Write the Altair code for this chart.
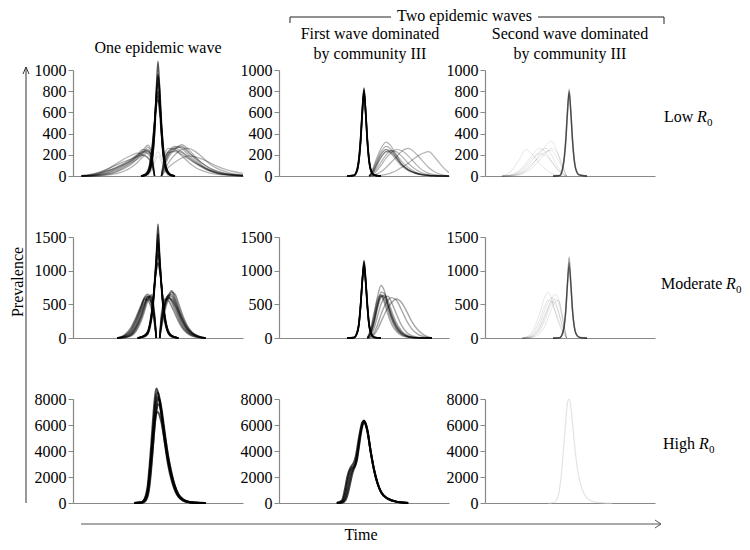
import altair as alt
import pandas as pd

FONT = "Liberation Serif"

# ---------------- data (time in % of panel width) ----------------
# Row 1: Low R0 -------------------------------------------------------------
P11_NARROW_T = [40, 43, 45, 46, 47, 48, 49, 50, 51, 52, 53, 54, 55, 57, 60]
P11_NARROW_Y = [
    [0, 8, 40, 90, 200, 420, 800, 1080, 800, 420, 200, 90, 40, 8, 0],
    [0, 10, 50, 110, 230, 460, 790, 960, 760, 430, 210, 100, 45, 10, 0],
    [0, 12, 60, 130, 260, 480, 760, 880, 720, 450, 230, 115, 55, 12, 0],
    [0, 15, 70, 150, 290, 490, 710, 800, 690, 470, 260, 130, 65, 15, 0],
    [0, 18, 85, 180, 320, 500, 660, 720, 640, 480, 290, 150, 75, 18, 0],
    [0, 25, 100, 200, 340, 520, 700, 760, 600, 400, 230, 120, 60, 15, 0],
    [0, 10, 45, 100, 210, 400, 700, 940, 820, 520, 280, 140, 60, 14, 0],
]
P11_LEFT_T = [5, 10, 15, 20, 25, 30, 35, 38, 41, 44, 46, 47, 48]
P11_LEFT_Y = [
    [0, 5, 20, 45, 80, 120, 170, 200, 230, 210, 150, 80, 0],
    [0, 2, 10, 25, 50, 90, 140, 180, 220, 250, 190, 100, 0],
    [5, 15, 35, 65, 100, 135, 165, 185, 195, 170, 120, 60, 0],
    [0, 0, 5, 15, 35, 70, 120, 170, 215, 270, 230, 130, 0],
    [0, 8, 25, 60, 110, 160, 200, 215, 200, 175, 130, 70, 0],
    [0, 0, 2, 8, 20, 45, 90, 130, 180, 220, 200, 120, 0],
    [2, 10, 30, 50, 75, 110, 150, 190, 240, 290, 240, 140, 0],
    [0, 3, 12, 30, 60, 100, 150, 190, 225, 240, 200, 110, 0],
    [1, 6, 18, 40, 70, 110, 160, 205, 250, 230, 170, 90, 0],
    [0, 1, 6, 18, 40, 80, 130, 160, 200, 235, 210, 120, 0],
]
P11_RIGHT_T = [52, 53, 54, 56, 60, 64, 68, 72, 76, 80, 85, 90, 95, 100]
P11_RIGHT_Y = [
    [0, 80, 150, 230, 280, 260, 200, 140, 90, 55, 30, 15, 8, 3],
    [0, 40, 90, 170, 250, 295, 250, 180, 120, 75, 40, 20, 10, 5],
    [0, 100, 170, 220, 230, 200, 160, 120, 90, 60, 35, 20, 10, 5],
    [0, 30, 60, 120, 200, 250, 260, 230, 180, 120, 70, 40, 20, 10],
    [0, 60, 120, 200, 240, 220, 170, 120, 80, 50, 25, 12, 5, 2],
    [0, 20, 40, 80, 130, 170, 190, 180, 160, 130, 90, 60, 40, 25],
    [0, 120, 200, 260, 250, 190, 130, 80, 50, 30, 15, 8, 3, 0],
    [0, 70, 130, 210, 270, 280, 230, 160, 100, 60, 30, 15, 6, 2],
    [0, 50, 110, 190, 260, 270, 220, 170, 120, 80, 45, 25, 12, 6],
    [0, 90, 160, 230, 260, 230, 180, 130, 85, 50, 25, 12, 5, 2],
]
P11_MID_T = [44, 46, 48, 50, 52, 54, 56]
P11_MID_Y = [[0, 60, 160, 230, 160, 60, 0], [0, 40, 120, 190, 130, 50, 0]]

P12_NARROW_T = [40, 44, 46, 47, 48, 49, 50, 51, 52, 53, 54, 56, 60]
P12_NARROW_Y = [
    [0, 5, 60, 150, 330, 600, 800, 600, 330, 150, 60, 10, 0],
    [0, 6, 70, 170, 360, 620, 830, 590, 320, 140, 55, 8, 0],
    [0, 4, 50, 140, 310, 580, 780, 610, 350, 160, 65, 12, 0],
    [0, 5, 55, 150, 340, 620, 810, 580, 310, 135, 50, 8, 0],
]
P12_BROAD_T = [53, 55, 57, 60, 63, 66, 69, 72, 76, 80, 84, 88, 92, 96, 100]
P12_BROAD_Y = [
    [0, 30, 90, 180, 230, 220, 170, 110, 60, 30, 12, 5, 2, 0, 0],
    [0, 50, 130, 230, 280, 250, 180, 110, 60, 30, 15, 5, 2, 0, 0],
    [0, 20, 60, 130, 200, 240, 230, 190, 120, 65, 30, 12, 5, 2, 0],
    [0, 40, 110, 210, 250, 210, 150, 95, 50, 25, 10, 4, 1, 0, 0],
    [0, 10, 40, 100, 170, 220, 250, 240, 190, 120, 60, 25, 10, 4, 0],
    [0, 60, 150, 260, 320, 280, 200, 120, 60, 30, 12, 5, 2, 0, 0],
    [0, 5, 15, 40, 80, 130, 180, 230, 260, 220, 150, 80, 35, 12, 0],
    [0, 0, 2, 6, 15, 30, 50, 80, 120, 170, 210, 230, 170, 90, 30],
    [0, 35, 100, 200, 250, 230, 170, 110, 60, 30, 12, 5, 2, 0, 0],
    [0, 25, 80, 170, 230, 240, 200, 140, 80, 40, 18, 6, 2, 0, 0],
]

P13_NARROW_T = [40, 44, 45.5, 46.5, 47.5, 48.5, 49.5, 50.5, 51.5, 52.5, 53.5, 55.5, 60]
P13_NARROW_Y = [
    [0, 5, 60, 150, 330, 600, 800, 600, 330, 150, 60, 10, 0],
    [0, 6, 70, 170, 360, 620, 820, 590, 320, 140, 55, 8, 0],
    [0, 4, 50, 140, 310, 580, 780, 610, 350, 160, 65, 12, 0],
]
P13_BROAD_T = [10, 15, 20, 24, 28, 32, 36, 39, 42, 45, 48]
P13_BROAD_Y = [
    [0, 40, 150, 250, 200, 120, 60, 25, 10, 3, 0],
    [0, 5, 30, 80, 150, 230, 260, 200, 110, 40, 0],
    [0, 2, 15, 50, 110, 200, 290, 330, 250, 110, 0],
    [0, 10, 50, 120, 200, 260, 220, 140, 70, 25, 0],
    [0, 0, 10, 35, 80, 150, 220, 260, 230, 130, 0],
    [0, 3, 20, 60, 120, 180, 230, 240, 180, 90, 0],
    [0, 8, 40, 100, 170, 210, 190, 140, 80, 30, 0],
]

# Row 2: Moderate R0 --------------------------------------------------------
P21_NARROW_T = [38, 42, 44, 46, 47, 48, 49, 50, 51, 52, 53, 54, 56, 58, 62]
P21_NARROW_Y = [
    [0, 20, 60, 250, 450, 750, 1200, 1690, 1200, 750, 450, 250, 70, 20, 0],
    [0, 25, 70, 280, 480, 780, 1150, 1550, 1150, 780, 480, 280, 80, 25, 0],
    [0, 30, 80, 300, 500, 800, 1100, 1400, 1100, 800, 500, 300, 90, 30, 0],
    [0, 35, 90, 320, 520, 800, 1050, 1250, 1050, 800, 520, 320, 100, 35, 0],
    [0, 40, 100, 340, 540, 800, 1000, 1120, 1000, 800, 540, 340, 110, 40, 0],
    [0, 30, 85, 300, 520, 850, 1200, 1450, 1180, 820, 500, 300, 85, 28, 0],
]
P21_LEFT_T = [26, 30, 34, 37, 40, 42, 44, 46, 47, 48, 49]
P21_LEFT_Y = [
    [0, 20, 80, 200, 400, 540, 600, 520, 400, 250, 0],
    [0, 10, 50, 150, 320, 480, 620, 600, 500, 300, 0],
    [0, 40, 150, 300, 480, 580, 560, 450, 330, 200, 0],
    [0, 5, 30, 100, 250, 400, 560, 640, 560, 350, 0],
    [0, 25, 100, 240, 440, 600, 650, 550, 420, 260, 0],
    [0, 15, 60, 170, 350, 500, 580, 540, 450, 280, 0],
    [0, 30, 120, 270, 460, 590, 620, 560, 440, 280, 0],
    [0, 8, 40, 130, 300, 450, 600, 620, 520, 320, 0],
]
P21_RIGHT_T = [51, 52, 53, 54, 56, 58, 60, 62, 64, 67, 70, 74, 78]
P21_RIGHT_Y = [
    [0, 250, 400, 500, 600, 580, 500, 380, 260, 130, 60, 15, 0],
    [0, 200, 350, 480, 640, 650, 560, 430, 300, 150, 70, 20, 0],
    [0, 300, 450, 550, 620, 540, 420, 300, 190, 90, 40, 10, 0],
    [0, 150, 280, 400, 580, 680, 650, 520, 370, 190, 85, 25, 0],
    [0, 350, 500, 580, 560, 470, 360, 250, 160, 75, 30, 8, 0],
    [0, 180, 320, 450, 620, 700, 600, 450, 320, 170, 80, 22, 0],
    [0, 220, 380, 500, 630, 620, 520, 400, 280, 140, 65, 18, 0],
    [0, 270, 420, 520, 590, 560, 470, 350, 230, 110, 50, 12, 0],
]

P22_NARROW_T = [40, 44, 46, 47, 48, 49, 50, 51, 52, 53, 54, 56, 60]
P22_NARROW_Y = [
    [0, 5, 80, 200, 480, 850, 1120, 850, 480, 200, 80, 10, 0],
    [0, 6, 90, 220, 500, 860, 1080, 830, 460, 190, 75, 8, 0],
    [0, 4, 70, 190, 460, 830, 1150, 870, 500, 210, 85, 12, 0],
    [0, 5, 85, 210, 490, 840, 1050, 810, 450, 180, 70, 8, 0],
]
P22_BROAD_T = [52, 54, 56, 58, 60, 62, 64, 66, 69, 72, 75, 78, 82, 86, 90]
P22_BROAD_Y = [
    [0, 100, 300, 520, 620, 560, 420, 280, 130, 60, 25, 10, 3, 0, 0],
    [0, 60, 220, 450, 600, 640, 560, 420, 230, 110, 45, 18, 5, 0, 0],
    [0, 150, 380, 580, 640, 520, 360, 220, 100, 40, 15, 5, 0, 0, 0],
    [0, 40, 150, 330, 500, 600, 620, 540, 360, 190, 85, 35, 10, 2, 0],
    [0, 120, 350, 620, 780, 700, 500, 320, 150, 60, 20, 8, 2, 0, 0],
    [0, 20, 80, 200, 350, 470, 560, 600, 560, 420, 260, 140, 50, 15, 0],
    [0, 80, 260, 500, 680, 660, 520, 360, 180, 80, 30, 10, 3, 0, 0],
    [0, 10, 50, 130, 240, 350, 450, 520, 580, 530, 400, 250, 110, 35, 0],
    [0, 90, 280, 510, 640, 600, 470, 320, 160, 70, 28, 10, 3, 0, 0],
    [0, 70, 240, 470, 620, 620, 500, 360, 190, 90, 35, 12, 4, 0, 0],
]

P23_NARROW_T = [40, 44, 45.5, 46.5, 47.5, 48.5, 49.5, 50.5, 51.5, 52.5, 53.5, 55.5, 60]
P23_NARROW_Y = [
    [0, 5, 60, 160, 400, 800, 1200, 820, 420, 180, 70, 12, 0],
    [0, 6, 70, 180, 430, 830, 1120, 800, 400, 170, 65, 10, 0],
    [0, 4, 55, 150, 380, 780, 1060, 780, 390, 165, 62, 10, 0],
]
P23_BROAD_T = [22, 26, 29, 32, 35, 37, 39, 41, 43, 45, 46.5, 48]
P23_BROAD_Y = [
    [0, 40, 150, 350, 600, 680, 600, 420, 250, 120, 60, 0],
    [0, 15, 70, 200, 400, 530, 600, 560, 420, 220, 100, 0],
    [0, 5, 30, 100, 250, 380, 500, 580, 540, 350, 170, 0],
    [0, 10, 50, 150, 330, 450, 540, 520, 400, 230, 110, 0],
    [0, 2, 15, 60, 170, 290, 420, 530, 560, 420, 200, 0],
    [0, 25, 100, 260, 470, 560, 540, 420, 280, 150, 70, 0],
    [0, 8, 40, 130, 300, 430, 560, 650, 600, 380, 180, 0],
]

# Row 3: High R0 ------------------------------------------------------------
P31_T = [36, 40, 42, 43, 44, 45, 46, 47, 48, 49, 50, 51, 52, 53, 54, 55, 56, 58, 60, 62, 65, 68, 72, 78]
P31_Y = [
    [0, 50, 300, 650, 1400, 2800, 4500, 6300, 7900, 8800, 8500, 7700, 6700, 5600, 4600, 3700, 2900, 1750, 950, 480, 170, 60, 12, 0],
    [0, 30, 200, 450, 1000, 2200, 3700, 5300, 6800, 7900, 8200, 7800, 7000, 6000, 5000, 4100, 3300, 2000, 1100, 550, 200, 70, 15, 0],
    [0, 15, 120, 300, 700, 1600, 2900, 4400, 5900, 7000, 7600, 7500, 6900, 6100, 5200, 4400, 3600, 2300, 1300, 680, 260, 90, 20, 0],
    [0, 25, 180, 420, 950, 2100, 3700, 5500, 7200, 8300, 8500, 8000, 7100, 6000, 4950, 4000, 3150, 1900, 1050, 520, 190, 65, 14, 0],
    [0, 40, 250, 550, 1150, 2300, 3700, 5100, 6300, 6900, 7000, 6700, 6200, 5500, 4700, 3900, 3200, 2100, 1250, 650, 250, 90, 20, 0],
    [0, 10, 90, 230, 560, 1300, 2600, 4200, 5900, 7200, 8000, 7900, 7300, 6400, 5400, 4400, 3500, 2200, 1250, 620, 230, 80, 18, 0],
]
P32_T = [34, 37, 39, 40, 41, 42, 43, 44, 45, 46, 47, 48, 49, 50, 51, 52, 54, 56, 58, 60, 64, 70, 76]
P32_Y = [
    [0, 100, 800, 1500, 2100, 2500, 2700, 2800, 3100, 3800, 4700, 5500, 6100, 6350, 6100, 5600, 3900, 2500, 1500, 850, 330, 80, 0],
    [0, 50, 400, 900, 1500, 2100, 2500, 2750, 3000, 3600, 4500, 5400, 6000, 6300, 6050, 5550, 3900, 2500, 1500, 850, 330, 80, 0],
    [0, 200, 1200, 1900, 2400, 2700, 2900, 3100, 3500, 4200, 5000, 5700, 6200, 6300, 6000, 5500, 3850, 2450, 1480, 840, 320, 80, 0],
    [0, 20, 200, 500, 1000, 1600, 2200, 2600, 2900, 3400, 4300, 5200, 5900, 6250, 6100, 5600, 3950, 2550, 1520, 860, 335, 80, 0],
]
P33_T = [37.5, 40.5, 42.5, 43.5, 44.5, 45.5, 46.5, 47.5, 48.5, 49.5, 50.5, 51.5, 52.5, 53.5, 54.5, 56.5, 58.5, 61.5, 64.5, 69.5, 74.5]
P33_Y = [[0, 60, 350, 800, 1700, 3000, 4700, 6300, 7700, 8000, 7400, 6100, 4700, 3500, 2500, 1300, 650, 230, 80, 18, 0]]

Y_TICKS_1 = [0, 200, 400, 600, 800, 1000]
Y_TICKS_2 = [0, 500, 1000, 1500]
Y_TICKS_3 = [0, 2000, 4000, 6000, 8000]

COL_TITLES = ["One epidemic wave", ["First wave dominated", "by community III"],
              ["Second wave dominated", "by community III"]]
ROW_NAMES = ["Low", "Moderate", "High"]

# ---------------- helpers ----------------
W = 170
HEIGHTS = [106, 101, 104]


def long_df(ts, ys):
    rows = []
    for k, yy in enumerate(ys):
        for t, v in zip(ts, yy):
            rows.append({"t": t, "y": v, "k": k})
    return pd.DataFrame(rows)


ONE = pd.DataFrame({"a": [0]})


def txt(x, y, s, size=16, align="center", baseline="alphabetic", angle=0, style="normal"):
    kw = dict(font=FONT, fontSize=size, align=align, baseline=baseline, color="black",
              fontStyle=style)
    if angle:
        kw["angle"] = angle
    return alt.Chart(ONE).mark_text(**kw).encode(
        x=alt.value(x), y=alt.value(y), text=alt.value(s))


def seg(x1, y1, x2, y2, color="#222"):
    return alt.Chart(ONE).mark_rule(color=color, strokeWidth=1).encode(
        x=alt.value(x1), y=alt.value(y1), x2=alt.value(x2), y2=alt.value(y2))


def panel(groups, ymax, yticks, h, decor=()):
    x = alt.X("t:Q", scale=alt.Scale(domain=[0, 100], nice=False, zero=False),
              axis=alt.Axis(labels=False, ticks=False, title=None, grid=False,
                            domainColor="#888", domainWidth=1.2))
    y = alt.Y("y:Q", scale=alt.Scale(domain=[0, ymax], nice=False),
              axis=alt.Axis(values=yticks, format="d", title=None, grid=False, tickSize=5,
                            tickColor="#888", domainColor="#888", domainWidth=1.2,
                            labelFont=FONT, labelFontSize=16, labelColor="black",
                            labelPadding=2))
    layers = []
    for ts, ys, color, op, sw in groups:
        layers.append(
            alt.Chart(long_df(ts, ys)).mark_line(
                color=color, opacity=op, strokeWidth=sw, interpolate="monotone"
            ).encode(x=x, y=y, detail="k:N")
        )
    return alt.layer(*layers, *decor).properties(width=W, height=h)


def row_label(name, x0, xr, y0):
    return [txt(x0, y0, name, align="left"),
            txt(xr, y0, "R", align="left", style="italic"),
            txt(xr + 10, y0 + 4, "0", size=11, align="left")]


# ---------------- decorations (relative to top-left panel) ----------------
decor11 = [
    txt(85, -17, COL_TITLES[0]),
    # bracket "Two epidemic waves"
    seg(217, -53, 318, -53), seg(465, -53, 591, -53),
    seg(217, -53, 217, -47), seg(591, -53, 591, -46),
    txt(391.5, -49, "Two epidemic waves"),
    # vertical prevalence arrow
    seg(-47, -3, -47, 433, "#333"), seg(-47, -3, -50, 4, "#333"), seg(-47, -3, -44, 4, "#333"),
    txt(-55, 212, "Prevalence", angle=270, baseline="middle"),
    # horizontal time arrow
    seg(8, 454, 588, 454, "#555"), seg(588, 454, 582, 450, "#555"), seg(588, 454, 582, 458, "#555"),
    txt(288, 470, "Time"),
]
decor12 = [txt(91, -31, COL_TITLES[1][0]), txt(91, -11, COL_TITLES[1][1])]
decor13 = [txt(85, -31, COL_TITLES[2][0]), txt(85, -11, COL_TITLES[2][1])] + \
    row_label(ROW_NAMES[0], 179, 212, 52)
decor23 = row_label(ROW_NAMES[1], 176, 241, 52)
decor33 = row_label(ROW_NAMES[2], 178, 214, 50)

BLK = "black"
p11 = panel([
    (P11_LEFT_T, P11_LEFT_Y, BLK, 0.3, 1.3),
    (P11_RIGHT_T, P11_RIGHT_Y, BLK, 0.3, 1.3),
    (P11_MID_T, P11_MID_Y, BLK, 0.12, 1),
    (P11_NARROW_T, P11_NARROW_Y, BLK, 0.65, 1.6),
], 1000, Y_TICKS_1, HEIGHTS[0], decor11)
p12 = panel([
    (P12_BROAD_T, P12_BROAD_Y, BLK, 0.3, 1.2),
    (P12_NARROW_T, P12_NARROW_Y, BLK, 0.75, 1.6),
], 1000, Y_TICKS_1, HEIGHTS[0], decor12)
p13 = panel([
    (P13_BROAD_T, P13_BROAD_Y, BLK, 0.1, 1),
    (P13_NARROW_T, P13_NARROW_Y, BLK, 0.35, 1.4),
], 1000, Y_TICKS_1, HEIGHTS[0], decor13)

p21 = panel([
    (P21_LEFT_T, P21_LEFT_Y, BLK, 0.45, 1.6),
    (P21_RIGHT_T, P21_RIGHT_Y, BLK, 0.45, 1.6),
    (P21_NARROW_T, P21_NARROW_Y, BLK, 0.7, 1.6),
], 1500, Y_TICKS_2, HEIGHTS[1])
p22 = panel([
    (P22_BROAD_T, P22_BROAD_Y, BLK, 0.35, 1.4),
    (P22_NARROW_T, P22_NARROW_Y, BLK, 0.8, 1.6),
], 1500, Y_TICKS_2, HEIGHTS[1])
p23 = panel([
    (P23_BROAD_T, P23_BROAD_Y, BLK, 0.1, 1),
    (P23_NARROW_T, P23_NARROW_Y, BLK, 0.35, 1.4),
], 1500, Y_TICKS_2, HEIGHTS[1], decor23)

p31 = panel([(P31_T, P31_Y, BLK, 0.7, 2)], 8000, Y_TICKS_3, HEIGHTS[2])
p32 = panel([(P32_T, P32_Y, BLK, 0.75, 2)], 8000, Y_TICKS_3, HEIGHTS[2])
p33 = panel([(P33_T, P33_Y, "#e3e3e3", 1, 1.2)], 8000, Y_TICKS_3, HEIGHTS[2], decor33)

chart = alt.concat(
    p11, p12, p13, p21, p22, p23, p31, p32, p33,
    columns=3, spacing={"row": 61, "column": 36}, bounds="flush",
).properties(
    padding={"left": 2, "top": 0, "right": 0, "bottom": 0}
).configure_view(stroke=None).configure_axis(labelFont=FONT)

chart.save("out.html", embed_options={"renderer": "svg", "actions": False})
